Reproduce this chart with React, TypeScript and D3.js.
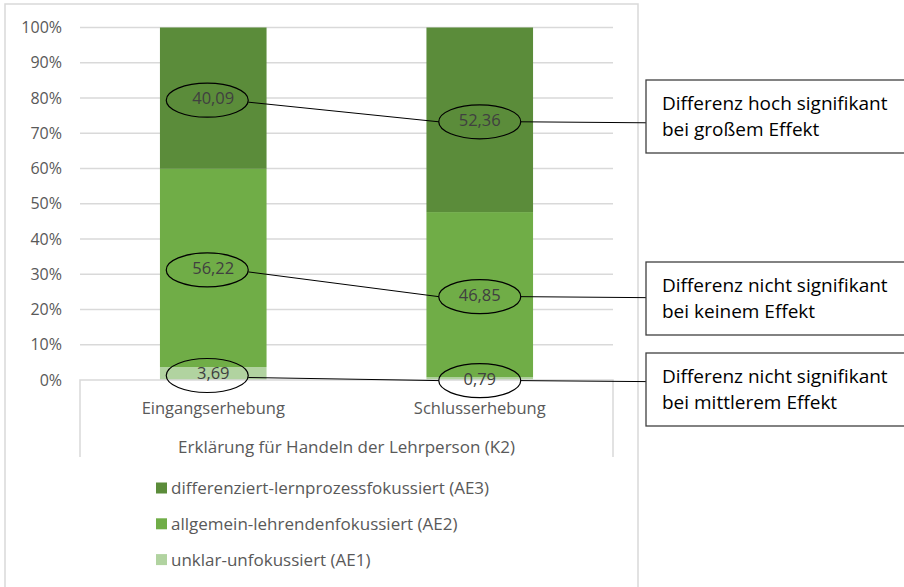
import React, { useEffect, useRef } from 'react';
import * as d3 from 'd3';

// categories and stacked shares (percent)
const categories = ['Eingangserhebung', 'Schlusserhebung'];
const seriesNames = [
  'unklar-unfokussiert (AE1)',
  'allgemein-lehrendenfokussiert (AE2)',
  'differenziert-lernprozessfokussiert (AE3)',
];
const ae1 = [3.69, 0.79];
const ae2 = [56.22, 46.85];
const ae3 = [40.09, 52.36];
const yTicks = [0, 10, 20, 30, 40, 50, 60, 70, 80, 90, 100];
const axisTitle = 'Erklärung für Handeln der Lehrperson (K2)';
// annotation boxes, top row to bottom row (AE3, AE2, AE1)
const noteLines = [
  ['Differenz hoch signifikant', 'bei großem Effekt'],
  ['Differenz nicht signifikant', 'bei keinem Effekt'],
  ['Differenz nicht signifikant', 'bei mittlerem Effekt'],
];
const colors = ['#B1D3A0', '#70AD47', '#5B8C3A'];

const FONT = "'Open Sans', 'Noto Sans', sans-serif";

const App: React.FC = () => {
  const svgRef = useRef<SVGSVGElement>(null);

  useEffect(() => {
    if (!svgRef.current) return;
    const W = 904, H = 587;
    const svg = d3.select(svgRef.current);
    svg.selectAll('*').remove();
    svg.attr('width', W).attr('height', H);

    const plot = { left: 80, right: 613, top: 27.5, bottom: 380 };

    const rows = categories.map((c, i) => ({ cat: c, AE1: ae1[i], AE2: ae2[i], AE3: ae3[i] }));
    const keys = ['AE1', 'AE2', 'AE3'];
    const stacked = d3.stack<any>().keys(keys)(rows);

    const x = d3.scaleBand()
      .domain(categories)
      .range([plot.left, plot.right])
      .paddingInner(0.6)
      .paddingOuter(0.3);
    const y = d3.scaleLinear().domain([0, 100]).range([plot.bottom, plot.top]);

    // chart frame
    svg.append('rect')
      .attr('x', 5).attr('y', 4)
      .attr('width', 633).attr('height', 600)
      .attr('fill', 'white')
      .attr('stroke', '#D9D9D9')
      .attr('stroke-width', 1.5);

    // gridlines
    svg.append('g')
      .selectAll('line')
      .data(yTicks.filter(t => t > 0))
      .enter()
      .append('line')
      .attr('x1', plot.left).attr('x2', plot.right)
      .attr('y1', d => y(d)).attr('y2', d => y(d))
      .attr('stroke', '#D9D9D9')
      .attr('stroke-width', 1.5);

    // y tick labels
    svg.append('g')
      .selectAll('text')
      .data(yTicks)
      .enter()
      .append('text')
      .attr('x', 62)
      .attr('y', d => y(d) + 5.5)
      .attr('text-anchor', 'end')
      .style('font-family', FONT)
      .style('font-size', '16px')
      .style('fill', '#595959')
      .text(d => `${d}%`);

    // bars
    stacked.forEach((layer, si) => {
      svg.append('g')
        .selectAll('rect')
        .data(layer)
        .enter()
        .append('rect')
        .attr('x', d => x(d.data.cat) || 0)
        .attr('width', x.bandwidth())
        .attr('y', d => y(d[1]))
        .attr('height', d => y(d[0]) - y(d[1]))
        .attr('fill', colors[si]);
    });

    // category axis box
    const catBottom = 457;
    svg.append('path')
      .attr('d', `M${plot.left},${catBottom}V${plot.bottom}H${plot.right}V${catBottom}`)
      .attr('fill', 'none')
      .attr('stroke', '#D9D9D9')
      .attr('stroke-width', 1.5);

    svg.append('g')
      .selectAll('text')
      .data(categories)
      .enter()
      .append('text')
      .attr('x', d => (x(d) || 0) + x.bandwidth() / 2)
      .attr('y', 414)
      .attr('text-anchor', 'middle')
      .style('font-family', FONT)
      .style('font-size', '16.5px')
      .style('fill', '#595959')
      .text(d => d);

    svg.append('text')
      .attr('x', (plot.left + plot.right) / 2)
      .attr('y', 453)
      .attr('text-anchor', 'middle')
      .style('font-family', FONT)
      .style('font-size', '17px')
      .style('fill', '#595959')
      .text(axisTitle);

    // data labels with ellipses and connectors
    const rx = 41, ry = 17;
    const boxLeft = 646;
    const boxTops = [80, 262, 353];
    const boxH = 73;
    const order = [2, 1, 0]; // AE3, AE2, AE1 top to bottom
    const ellipseShift = [-6, 0];
    const ann = svg.append('g');

    order.forEach((si, row) => {
      const layer = stacked[si];
      const pts = layer.map((d, ci) => ({
        cx: (x(d.data.cat) || 0) + x.bandwidth() / 2,
        cy: y((d[0] + d[1]) / 2),
        value: d[1] - d[0],
        ci,
      }));
      const ell = pts.map(p => ({ ex: p.cx + ellipseShift[p.ci], ey: p.cy + 2 }));

      // connector lines
      const boxY = ell[1].ey + 1;
      ann.append('path')
        .attr('d', `M${ell[0].ex + rx},${ell[0].ey + 2}L${ell[1].ex - rx},${ell[1].ey}M${ell[1].ex + rx},${ell[1].ey}L${boxLeft},${boxY}`)
        .attr('fill', 'none')
        .attr('stroke', '#000')
        .attr('stroke-width', 1);

      pts.forEach((p, k) => {
        ann.append('ellipse')
          .attr('cx', ell[k].ex).attr('cy', ell[k].ey)
          .attr('rx', rx).attr('ry', ry)
          .attr('fill', 'none')
          .attr('stroke', '#000')
          .attr('stroke-width', 1.2);
        ann.append('text')
          .attr('x', p.cx)
          .attr('y', p.cy + 6)
          .attr('text-anchor', 'middle')
          .style('font-family', FONT)
          .style('font-size', '16.5px')
          .style('fill', '#404040')
          .text(p.value.toFixed(2).replace('.', ','));
      });

      // annotation box
      ann.append('rect')
        .attr('x', boxLeft).attr('y', boxTops[row])
        .attr('width', 300).attr('height', boxH)
        .attr('fill', 'white')
        .attr('stroke', '#404040')
        .attr('stroke-width', 1.3);
      noteLines[row].forEach((line, li) => {
        ann.append('text')
          .attr('x', 662)
          .attr('y', boxTops[row] + 30 + li * 26)
          .style('font-family', FONT)
          .style('font-size', '19px')
          .style('fill', '#000')
          .text(line);
      });
    });

    // legend (top entry is AE3)
    const legend = svg.append('g');
    order.forEach((si, row) => {
      const ly = 488 + row * 35.8;
      legend.append('rect')
        .attr('x', 156).attr('y', ly - 5.5)
        .attr('width', 11).attr('height', 11)
        .attr('fill', colors[si]);
      legend.append('text')
        .attr('x', 171)
        .attr('y', ly + 6)
        .style('font-family', FONT)
        .style('font-size', '17px')
        .style('fill', '#595959')
        .text(seriesNames[si]);
    });
  }, []);

  return (
    <div style={{ position: 'absolute', left: 0, top: 0, width: 904, height: 587, overflow: 'hidden', background: 'white' }}>
      <svg ref={svgRef} style={{ display: 'block' }} />
    </div>
  );
};

export default App;
